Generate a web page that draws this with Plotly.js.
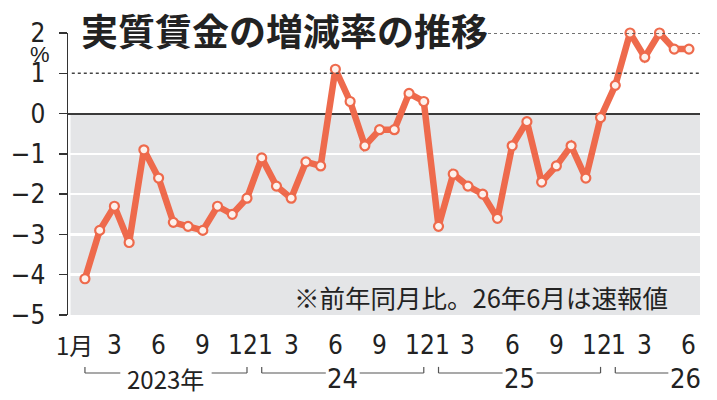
<!DOCTYPE html>
<html>
<head>
<meta charset="utf-8">
<script src="https://cdn.plot.ly/plotly-3.0.1.min.js"></script>
<style>html,body{margin:0;padding:0;background:#fff;}#chart{width:717px;height:400px;}</style>
</head>
<body>
<div id="chart"></div>
<script>
// ---- data ----
const months = [1,2,3,4,5,6,7,8,9,10,11,12, 1,2,3,4,5,6,7,8,9,10,11,12, 1,2,3,4,5,6,7,8,9,10,11,12, 1,2,3,4,5,6];
const values = [-4.1,-2.9,-2.3,-3.2,-0.9,-1.6,-2.7,-2.8,-2.9,-2.3,-2.5,-2.1,
                -1.1,-1.8,-2.1,-1.2,-1.3,1.1,0.3,-0.8,-0.4,-0.4,0.5,0.3,
                -2.8,-1.5,-1.8,-2.0,-2.6,-0.8,-0.2,-1.7,-1.3,-0.8,-1.6,-0.1,
                0.7,2.0,1.4,2.0,1.6,1.6];
const yearLabels = ['2023年','24','25','26'];
const yearStart = [0,12,24,36];
const yearEnd = [11,23,35,41];
const labeledMonths = [1,3,6,9,12];
const yTickVals = [2,1,0,-1,-2,-3,-4,-5];
const yTickText = ['2','1','0','−1','−2','−3','−4','−5'];
const titleText = '実質賃金の増減率の推移';
const noteText = '※前年同月比。26年6月は速報値';

// ---- derived ----
const idx = months.map((m,i)=>i);
const xr = [-1.15, 41.75];
const orange = '#ee6a4c';
const numFont = "'Liberation Sans Narrow','DejaVu Sans Condensed','Noto Sans CJK JP',sans-serif";
const jpFont = "'Noto Sans CJK JP','Noto Sans',sans-serif";

const traces = [
  {
    x: idx, y: values, type:'scatter', mode:'lines+markers', cliponaxis:false,
    line:{color:orange, width:6.5},
    marker:{size:9, color:'#fdf1ec', line:{color:orange, width:2.2}},
    hoverinfo:'skip'
  },
  {
    x: idx, y: idx.map(()=>-5.2), type:'scatter', mode:'markers', cliponaxis:false,
    marker:{size: months.map(m=>labeledMonths.includes(m)?5:2.8), color:'#222'},
    hoverinfo:'skip'
  }
];

const shapes = [
  {type:'rect', xref:'paper', yref:'y', x0:0.004, x1:1, y0:-5, y1:0, fillcolor:'#e4e5e7', line:{width:0}, layer:'below'},
  {type:'line', xref:'paper', yref:'y', x0:0.006, x1:1, y0:1, y1:1, line:{color:'#444', width:1.5, dash:'dot'}},
  {type:'line', xref:'paper', yref:'y', x0:(488-68)/632, x1:1, y0:2, y1:2, line:{color:'#444', width:1.5, dash:'dot'}}
];
const annotations = [];

// x tick labels
idx.forEach(i=>{
  const m = months[i];
  if(!labeledMonths.includes(m)) return;
  const txt = (i===0) ? '1月' : String(m);
  let sh = 0;
  if(i===0) sh = -10; else if(m===1) sh = 3.5; else if(m===12) sh = -4;
  annotations.push({xref:'x', yref:'paper', x:i, y:-0.106, text:txt, showarrow:false,
    xanchor:'center', yanchor:'middle', xshift:sh,
    font:{family: i===0 ? jpFont : numFont, size: i===0 ? 24 : 26, color:'#222'}});
});

// year brackets
const yb = -0.2057, yt = -0.184, ylab = -0.224;
yearLabels.forEach((lab,k)=>{
  const s = yearStart[k], e = yearEnd[k];
  const full = (e - s) === 11;
  const half = lab.length > 2 ? 3.1 : 1.15;
  const c = full ? (s+e)/2 : e - 0.25;
  annotations.push({xref:'x', yref:'paper', x:c, y:ylab, text:lab, showarrow:false,
    xanchor:'center', yanchor:'middle',
    font:{family: lab.length>2 ? jpFont : numFont, size: lab.length>2 ? 24 : 27, color:'#222'}});
  const lc = {color:'#555', width:1.2};
  shapes.push({type:'line', xref:'x', yref:'paper', x0:s, x1:s, y0:yt, y1:yb, line:lc});
  shapes.push({type:'line', xref:'x', yref:'paper', x0:s, x1:c-half, y0:yb, y1:yb, line:lc});
  if(full){
    shapes.push({type:'line', xref:'x', yref:'paper', x0:c+half, x1:e, y0:yb, y1:yb, line:lc});
    shapes.push({type:'line', xref:'x', yref:'paper', x0:e, x1:e, y0:yt, y1:yb, line:lc});
  }
});

// percent unit
annotations.push({xref:'paper', yref:'y', x:(40-68)/632, y:1.46, text:'%', showarrow:false,
  xanchor:'center', yanchor:'middle', font:{family:"'Liberation Sans',sans-serif", size:22, color:'#222'}});
// note
annotations.push({xref:'paper', yref:'y', x:(670-68)/632, y:-4.55, text:noteText, showarrow:false,
  xanchor:'right', yanchor:'middle', font:{family:jpFont, size:25.5, color:'#222'}});

const layout = {
  width:717, height:400,
  margin:{l:68, r:17, t:33, b:85, pad:0},
  paper_bgcolor:'#fff', plot_bgcolor:'rgba(0,0,0,0)',
  showlegend:false,
  title:{text:titleText, xref:'paper', x:(81-68)/632, xanchor:'left', yref:'container', y:0.918, yanchor:'middle',
    font:{family:jpFont, size:37, weight:'bold', color:'#222'}},
  xaxis:{range:xr, visible:false, fixedrange:true},
  yaxis:{range:[-5,2], tickvals:yTickVals, ticktext:yTickText, showline:true, linecolor:'#333', linewidth:1.5,
    ticks:'outside', ticklen:8, tickwidth:1.5, tickcolor:'#333', ticklabelstandoff:8,
    tickfont:{family:numFont, size:26, color:'#222'},
    showgrid:true, gridcolor:'#ffffff', gridwidth:2.5,
    zeroline:true, zerolinecolor:'#3a3a3a', zerolinewidth:2, fixedrange:true},
  shapes:shapes, annotations:annotations
};

Plotly.newPlot('chart', traces, layout, {displayModeBar:false, staticPlot:true});
</script>
</body>
</html>
